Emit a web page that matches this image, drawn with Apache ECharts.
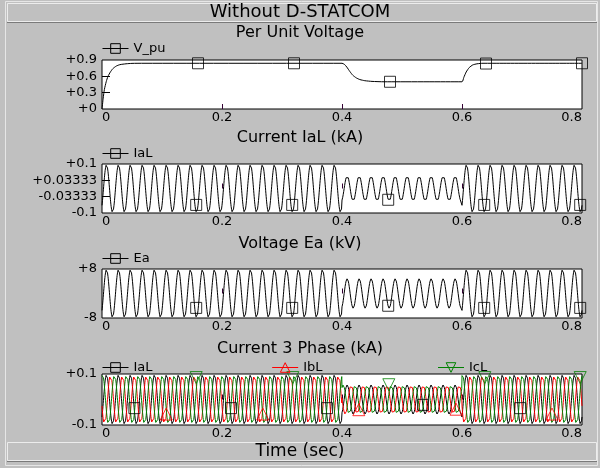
<!DOCTYPE html>
<html>
<head>
<meta charset="utf-8">
<script src="https://cdn.jsdelivr.net/npm/echarts@6/dist/echarts.min.js"></script>
<style>
  html, body { margin: 0; padding: 0; background: #c0c0c0; }
  #chart { width: 600px; height: 468px; }
</style>
</head>
<body>
<div id="chart"></div>
<script>
// time axis (sec)
const timeTicks = [0, 0.2, 0.4, 0.6, 0.8];
const timeTickLabels = ["0", "0.2", "0.4", "0.6", "0.8"];

// Per unit voltage
const vpuTime  = [0, 0.002, 0.004, 0.007, 0.01, 0.014, 0.018, 0.024, 0.03, 0.04, 0.05, 0.07,
                  0.4, 0.404, 0.408, 0.413, 0.418, 0.424, 0.43, 0.438, 0.45, 0.47,
                  0.6, 0.603, 0.607, 0.612, 0.618, 0.625, 0.635, 0.8];
const vpuValue = [0, 0.2, 0.36, 0.5, 0.6, 0.68, 0.74, 0.79, 0.815, 0.83, 0.838, 0.84,
                  0.84, 0.82, 0.77, 0.69, 0.62, 0.57, 0.54, 0.52, 0.507, 0.5,
                  0.5, 0.58, 0.68, 0.76, 0.81, 0.83, 0.84, 0.84];
const vpuMarkTime  = [0.16, 0.32, 0.48, 0.64, 0.8];
const vpuMarkValue = [0.84, 0.84, 0.5, 0.835, 0.84];
const vpuTicks = [0, 0.3, 0.6, 0.9];
const vpuTickLabels = ["+0", "+0.3", "+0.6", "+0.9"];

// waveforms: 50 Hz, amplitude per interval (normal / sag / normal)
const freq = 50;
const segStart = [0, 0.4, 0.6];
const iaAmp   = [0.097, 0.052, 0.097];   // kA
const eaAmp   = [7.8, 4.8, 7.8];         // kV
const i3Amp   = [0.097, 0.057, 0.097];   // kA
const phaseDeg = [-45, -65, -45];
const phaseShift3 = [0, -120, 120];      // IaL, IbL, IcL

const iaTicks = [-0.1, -0.03333, 0.03333, 0.1];
const iaTickLabels = ["-0.1", "-0.03333", "+0.03333", "+0.1"];
const iaMarkTime  = [0.157, 0.317, 0.477, 0.637, 0.797];
const iaMarkValue = [-0.067, -0.067, -0.046, -0.067, -0.067];

const eaTicks = [-8, 8];
const eaTickLabels = ["-8", "+8"];
const eaMarkTime  = [0.157, 0.317, 0.477, 0.637, 0.797];
const eaMarkValue = [-4.7, -4.7, -4.0, -4.7, -4.7];

const i3Ticks = [-0.1, 0.1];
const i3TickLabels = ["-0.1", "+0.1"];
const ialMarkTime  = [0.054, 0.215, 0.375, 0.535, 0.697];
const ialMarkValue = [-0.034, -0.034, -0.034, -0.021, -0.034];
const iblMarkTime  = [0.107, 0.268, 0.428, 0.59, 0.75];
const iblMarkValue = [-0.057, -0.057, -0.04, -0.038, -0.057];
const iclMarkTime  = [0.157, 0.318, 0.478, 0.638, 0.797];
const iclMarkValue = [0.086, 0.086, 0.058, 0.086, 0.086];

const FONT = "DejaVu Sans";

function wave(amp, shift) {
  const out = [];
  const dt = 0.0004;
  for (let k = 0; k <= 2000; k++) {
    const t = +(k * dt).toFixed(4);
    let s = 0;
    while (s < segStart.length - 1 && t >= segStart[s + 1]) s++;
    const ph = (phaseDeg[s] + shift) * Math.PI / 180;
    out.push([t, amp[s] * Math.sin(2 * Math.PI * freq * t + ph)]);
  }
  return out;
}
const zip = (a, b) => a.map((v, i) => [v, b[i]]);
const pick = (ticks, labels) => (v) => {
  let best = 0;
  ticks.forEach((t, i) => { if (Math.abs(t - v) < Math.abs(ticks[best] - v)) best = i; });
  return labels[best];
};

const grids = [
  { top: 60, height: 49 },
  { top: 164, height: 49 },
  { top: 269, height: 49 },
  { top: 374, height: 51 },
];

const xAxes = grids.map((g, i) => ({
  type: "value", gridIndex: i, min: 0, max: 0.8,
  axisLine: { show: false },
  splitLine: { show: false },
  axisTick: { show: true, inside: true, length: 5, customValues: [0.2, 0.4, 0.6],
              lineStyle: { color: "#303" } },
  axisLabel: { customValues: timeTicks, formatter: pick(timeTicks, timeTickLabels),
               margin: 2, fontFamily: FONT, fontSize: 13, color: "#000",
               alignMinLabel: "left", alignMaxLabel: "right" },
}));

function yAxis(i, min, max, ticks, labels, inner) {
  return {
    type: "value", gridIndex: i, min: min, max: max,
    axisLine: { show: false },
    splitLine: { show: false },
    axisTick: { show: inner.length > 0, inside: true, length: 8, customValues: inner,
                lineStyle: { color: "#000" } },
    axisLabel: { customValues: ticks, formatter: pick(ticks, labels),
                 margin: 5, fontFamily: FONT, fontSize: 13, color: "#000" },
  };
}

function lineSeries(name, i, data, color, symbol, rotate) {
  return {
    type: "line", name: name, xAxisIndex: i, yAxisIndex: i, data: data,
    showSymbol: false, symbol: symbol, symbolRotate: rotate || 0,
    lineStyle: { color: color, width: 1 },
    itemStyle: { color: "rgba(0,0,0,0)", borderColor: color, borderWidth: 1 },
    silent: true, animation: false,
  };
}
function markSeries(i, data, color, symbol, rotate, size) {
  return {
    type: "scatter", name: "_marks" + i + symbol + color, xAxisIndex: i, yAxisIndex: i, data: data,
    symbol: symbol, symbolSize: size, symbolRotate: rotate || 0,
    itemStyle: { color: "rgba(0,0,0,0)", borderColor: color, borderWidth: 1 },
    silent: true, animation: false, z: 3,
  };
}

// legend entries: name, colour
function legendItem(name, color) {
  return {
    name: name,
    itemStyle: { color: "rgba(0,0,0,0)", borderColor: color, borderWidth: 1 },
    lineStyle: { color: color, width: 1 },
  };
}
function legend(top, items, gap) {
  return {
    left: 102, top: top, padding: 0, itemGap: gap || 10,
    itemWidth: 26, itemHeight: 12,
    data: items,
    textStyle: { fontFamily: FONT, fontSize: 13, color: "#000" },
    selectedMode: false,
  };
}

const titleStyle = (size) => ({ fontFamily: FONT, fontSize: size, fontWeight: "normal", color: "#000" });

const option = {
  animation: false,
  backgroundColor: "#c0c0c0",
  graphic: [
    { type: "rect", shape: { x: 5.5, y: 1.5, width: 592, height: 464 },
      style: { fill: "none", stroke: "#e6e6e6", lineWidth: 1 }, silent: true },
    { type: "rect", shape: { x: 7.5, y: 3.5, width: 589, height: 18 },
      style: { fill: "#c0c0c0", stroke: "#ececec", lineWidth: 1 }, silent: true },
    { type: "line", shape: { x1: 7, y1: 22.5, x2: 597, y2: 22.5 },
      style: { stroke: "#7a7a7a", lineWidth: 1 }, silent: true },
    { type: "rect", shape: { x: 7.5, y: 442.5, width: 589, height: 18 },
      style: { fill: "#c0c0c0", stroke: "#ececec", lineWidth: 1 }, silent: true },
    { type: "line", shape: { x1: 7, y1: 461.5, x2: 597, y2: 461.5 },
      style: { stroke: "#7a7a7a", lineWidth: 1 }, silent: true },
  ],
  title: [
    { text: "Without D-STATCOM", left: "center", top: 3, padding: 0, textStyle: titleStyle(18) },
    { text: "Per Unit Voltage", left: "center", top: 25, padding: 0, textStyle: titleStyle(16) },
    { text: "Current IaL (kA)", left: "center", top: 130, padding: 0, textStyle: titleStyle(16) },
    { text: "Voltage Ea (kV)", left: "center", top: 236, padding: 0, textStyle: titleStyle(16) },
    { text: "Current 3 Phase (kA)", left: "center", top: 341, padding: 0, textStyle: titleStyle(16) },
    { text: "Time (sec)", left: "center", top: 443, padding: 0, textStyle: titleStyle(17) },
  ],
  legend: [
    legend(42, [legendItem("V_pu", "#000")]),
    legend(147, [legendItem("IaL", "#000")]),
    legend(252, [legendItem("Ea", "#000")]),
    legend(361, [legendItem("IaL ", "#000"), legendItem("IbL", "#ff0000"), legendItem("IcL", "#008000")], 115),
  ],
  grid: grids.map((g) => ({
    left: 102, right: 18, top: g.top, height: g.height,
    show: true, backgroundColor: "#fff", borderColor: "#000", borderWidth: 1,
  })),
  xAxis: xAxes,
  yAxis: [
    yAxis(0, 0, 0.9, vpuTicks, vpuTickLabels, [0.3, 0.6]),
    yAxis(1, -0.1, 0.1, iaTicks, iaTickLabels, [-0.03333, 0.03333]),
    yAxis(2, -8, 8, eaTicks, eaTickLabels, []),
    yAxis(3, -0.1, 0.1, i3Ticks, i3TickLabels, []),
  ],
  series: [
    Object.assign(lineSeries("V_pu", 0, zip(vpuTime, vpuValue), "#000", "rect"), { smooth: 0.2 }),
    markSeries(0, zip(vpuMarkTime, vpuMarkValue), "#000", "rect", 0, 11),

    lineSeries("IaL", 1, wave(iaAmp, 0), "#000", "rect"),
    markSeries(1, zip(iaMarkTime, iaMarkValue), "#000", "rect", 0, 11),

    lineSeries("Ea", 2, wave(eaAmp, 0), "#000", "rect"),
    markSeries(2, zip(eaMarkTime, eaMarkValue), "#000", "rect", 0, 11),

    lineSeries("IaL ", 3, wave(i3Amp, phaseShift3[0]), "#000", "rect"),
    lineSeries("IbL", 3, wave(i3Amp, phaseShift3[1]), "#ff0000", "triangle"),
    lineSeries("IcL", 3, wave(i3Amp, phaseShift3[2]), "#008000", "triangle", 180),
    markSeries(3, zip(ialMarkTime, ialMarkValue), "#000", "rect", 0, 11),
    markSeries(3, zip(iblMarkTime, iblMarkValue), "#ff0000", "triangle", 0, 12),
    markSeries(3, zip(iclMarkTime, iclMarkValue), "#008000", "triangle", 180, 12),
  ],
};

const chart = echarts.init(document.getElementById("chart"), null, { renderer: "canvas" });
chart.setOption(option);
</script>
</body>
</html>
